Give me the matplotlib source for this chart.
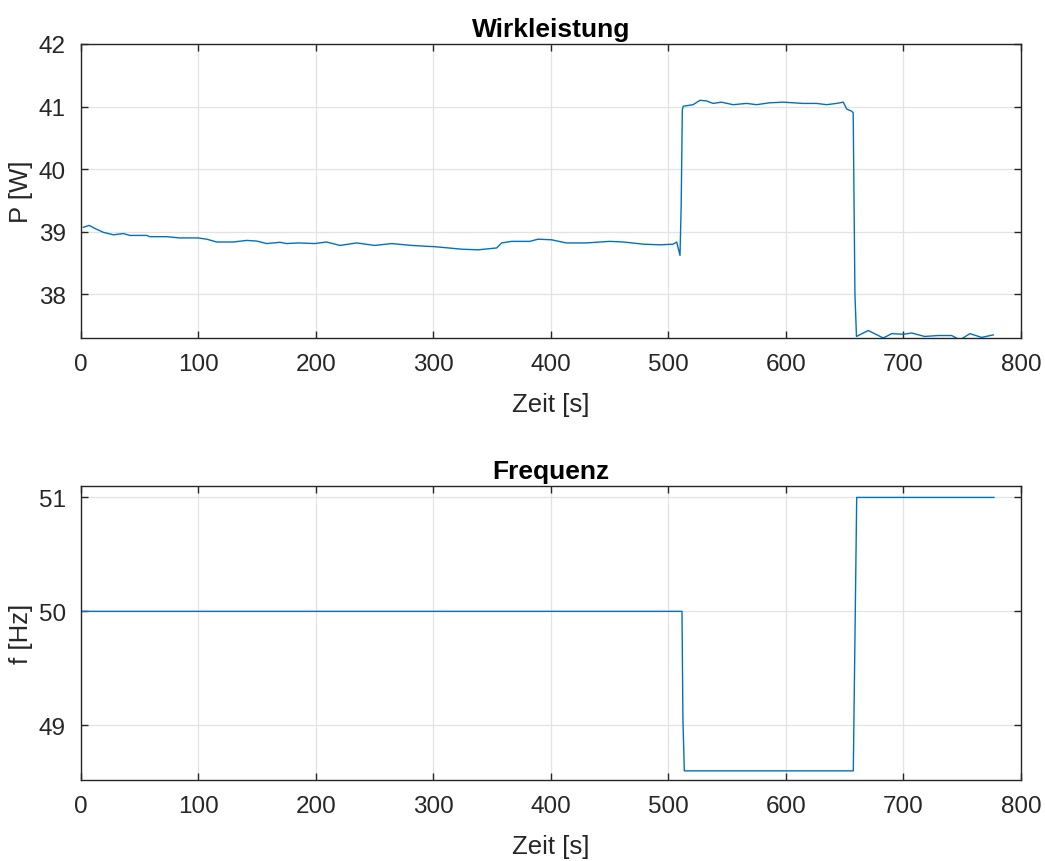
import matplotlib.pyplot as plt

plt.rcParams["font.family"] = ["Liberation Sans", "DejaVu Sans"]

# Wirkleistung
t_p = [2, 7, 12, 19, 27.5, 36, 41.7, 55.9, 58.7, 72.9, 84, 99.6, 107, 115.5,
       129.6, 141, 149.5, 158, 169.4, 175, 185, 199, 209, 220.4, 234.6, 250,
       264.4, 281.4, 295.6, 301, 312.6, 324, 338, 353.8, 358, 366.5, 382, 389,
       400.6, 413, 430, 450, 461.5, 478.6, 492.8, 504, 507, 509.8, 510.8, 511.8,
       512.6, 521, 526.8, 532.4, 538, 545, 555, 566.5, 575, 586, 597.7, 614.7,
       626, 634.6, 643, 648.8, 651.7, 656, 657.2, 658.7, 660, 670, 678.6, 682.8,
       690, 700, 707, 718, 729.6, 741, 748, 756.6, 766.5, 776.4]
p = [39.07, 39.10, 39.05, 38.99, 38.95, 38.97, 38.94, 38.94, 38.92, 38.92,
     38.90, 38.90, 38.88, 38.835, 38.835, 38.86, 38.85, 38.81, 38.83, 38.81,
     38.82, 38.81, 38.835, 38.78, 38.82, 38.78, 38.81, 38.78, 38.765, 38.76,
     38.74, 38.72, 38.71, 38.74, 38.82, 38.845, 38.845, 38.88, 38.87, 38.82,
     38.82, 38.845, 38.835, 38.80, 38.79, 38.80, 38.835, 38.62, 39.4, 40.95,
     41.005, 41.03, 41.10, 41.09, 41.05, 41.07, 41.03, 41.05, 41.03, 41.06,
     41.07, 41.05, 41.05, 41.03, 41.05, 41.07, 40.96, 40.925, 40.9, 38.0,
     37.325, 37.42, 37.34, 37.30, 37.37, 37.36, 37.38, 37.325, 37.34, 37.34,
     37.27, 37.37, 37.31, 37.35]

# Frequenz setpoint
t_f = [1, 511.5, 512.3, 513.5, 657.3, 660.2, 777]
f = [50, 50, 49.05, 48.6, 48.6, 51, 51]

line_col = "#0072BD"
txt_col = "#262626"

fig = plt.figure(figsize=(10.45, 8.62), dpi=100)
ax1 = fig.add_axes([0.0775, 0.6067, 0.8995, 0.3411])
ax2 = fig.add_axes([0.0775, 0.094, 0.8995, 0.341])

for ax in (ax1, ax2):
    ax.grid(True, color="#e3e3e3", linewidth=0.9)
    ax.set_axisbelow(True)
    ax.tick_params(direction="in", top=True, right=True, length=5,
                   width=1, colors=txt_col, labelsize=17.5, pad=11)
    for s in ax.spines.values():
        s.set_color(txt_col)
        s.set_linewidth(1)
    ax.set_xlim(0, 800)
    ax.set_xticks(range(0, 801, 100))
    ax.set_xlabel("Zeit [s]", fontsize=18.5, color=txt_col, labelpad=12)

ax1.plot(t_p, p, color=line_col, linewidth=1.0)
ax1.set_ylim(37.3, 42)
ax1.set_yticks([38, 39, 40, 41, 42])
ax1.set_ylabel("P [W]", fontsize=18.5, color=txt_col, labelpad=4)
ax1.set_title("Wirkleistung", fontsize=19, fontweight="bold", pad=6)

ax2.plot(t_f, f, color=line_col, linewidth=1.0)
ax2.set_ylim(48.52, 51.1)
ax2.set_yticks([49, 50, 51])
ax2.set_ylabel("f [Hz]", fontsize=18.5, color=txt_col, labelpad=4)
ax2.set_title("Frequenz", fontsize=19, fontweight="bold", pad=6)

fig.savefig("out.png", dpi=100)
